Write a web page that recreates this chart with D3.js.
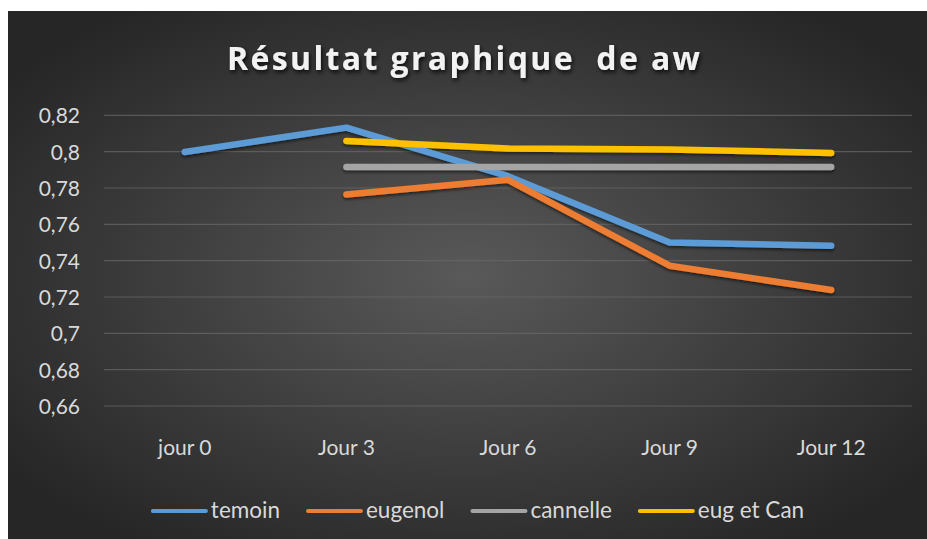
<!DOCTYPE html>
<html>
<head>
<meta charset="utf-8">
<script src="https://cdn.jsdelivr.net/npm/d3@7"></script>
<style>
  html, body { margin: 0; padding: 0; background: #ffffff; }
  svg { display: block; }
</style>
</head>
<body>
<svg id="chart" width="927" height="539"></svg>
<script>
const categories = ["jour 0", "Jour 3", "Jour 6", "Jour 9", "Jour 12"];
const temoin   = [0.7998, 0.8132, 0.7865, 0.7500, 0.7482];
const eugenol  = [null,   0.7764, 0.7845, 0.7372, 0.7238];
const cannelle = [null,   0.7916, 0.7916, 0.7916, 0.7916];
const eugCan   = [null,   0.8059, 0.8017, 0.8012, 0.7993];
const seriesNames = ["temoin", "eugenol", "cannelle", "eug et Can"];
const seriesColors = ["#5b9bd5", "#ed7d31", "#a5a5a5", "#ffc000"];
const yTicks = [0.66, 0.68, 0.70, 0.72, 0.74, 0.76, 0.78, 0.80, 0.82];
const yTickLabels = ["0,66", "0,68", "0,7", "0,72", "0,74", "0,76", "0,78", "0,8", "0,82"];
const title = "Résultat graphique  de aw";

const seriesData = [temoin, eugenol, cannelle, eugCan];

const svg = d3.select("#chart");
const W = 927, H = 539;
const FONT = "Lato, 'Open Sans', sans-serif";

const defs = svg.append("defs");
const grad = defs.append("radialGradient").attr("id", "bg")
  .attr("cx", "50%").attr("cy", "50%").attr("r", "62%");
grad.append("stop").attr("offset", "0%").attr("stop-color", "#595959");
grad.append("stop").attr("offset", "100%").attr("stop-color", "#262626");

const shadow = defs.append("filter").attr("id", "shadow")
  .attr("x", "-10%").attr("y", "-30%").attr("width", "120%").attr("height", "160%");
shadow.append("feDropShadow").attr("dx", 0).attr("dy", 2).attr("stdDeviation", 1.8)
  .attr("flood-color", "#000").attr("flood-opacity", 0.55);

const tshadow = defs.append("filter").attr("id", "tshadow")
  .attr("x", "-10%").attr("y", "-30%").attr("width", "120%").attr("height", "160%");
tshadow.append("feDropShadow").attr("dx", 1.5).attr("dy", 2.5).attr("stdDeviation", 2)
  .attr("flood-color", "#000").attr("flood-opacity", 0.8);

// background panel
svg.append("rect").attr("x", 8).attr("y", 11).attr("width", W - 8).attr("height", H - 11)
  .attr("fill", "url(#bg)");

// scales
const x = d3.scaleBand().domain(categories).range([104, 912]);
const y = d3.scaleLinear().domain([0.66, 0.82]).range([406, 115.3]);

// gridlines
svg.append("g").selectAll("line").data(yTicks).join("line")
  .attr("x1", 104).attr("x2", 912)
  .attr("y1", d => y(d)).attr("y2", d => y(d))
  .attr("stroke", "#6a6a6a").attr("stroke-opacity", 0.7).attr("stroke-width", 1.2);

// y axis labels
const yAxis = d3.axisLeft(y).tickValues(yTicks)
  .tickFormat((d, i) => yTickLabels[i]).tickSize(0).tickPadding(0);
const gy = svg.append("g").attr("transform", "translate(80,0)").call(yAxis);
gy.select(".domain").remove();
gy.selectAll("text").attr("fill", "#d9d9d9").attr("font-family", FONT)
  .attr("font-size", 21).attr("dy", "0.36em");

// x axis labels
const xAxis = d3.axisBottom(x).tickSize(0).tickPadding(0);
const gx = svg.append("g").attr("transform", "translate(0,455)").call(xAxis);
gx.select(".domain").remove();
gx.selectAll("text").attr("fill", "#d9d9d9").attr("font-family", FONT)
  .attr("font-size", 21).attr("dy", 0).attr("y", 0);

// lines
const line = d3.line()
  .defined(d => d.v != null)
  .x(d => x(d.c) + x.bandwidth() / 2)
  .y(d => y(d.v));

const gl = svg.append("g").attr("filter", "url(#shadow)");
seriesData.forEach((arr, si) => {
  const pts = arr.map((v, i) => ({ c: categories[i], v }));
  gl.append("path").attr("d", line(pts))
    .attr("fill", "none").attr("stroke", seriesColors[si])
    .attr("stroke-width", 6.5).attr("stroke-linecap", "round").attr("stroke-linejoin", "round");
});

// title
svg.append("text").attr("x", 463.5).attr("y", 70)
  .attr("text-anchor", "middle").attr("font-family", "'Open Sans', Lato, sans-serif").attr("font-weight", 700)
  .attr("font-size", 32).attr("fill", "#f2f2f2")
  .attr("textLength", 473).attr("lengthAdjust", "spacing")
  .attr("filter", "url(#tshadow)")
  .style("white-space", "pre")
  .text(title);

// legend
const lg = svg.append("g");
const items = [];
seriesNames.forEach((name, i) => {
  const g = lg.append("g");
  g.append("line").attr("x1", 0).attr("x2", 53).attr("y1", 0).attr("y2", 0)
    .attr("stroke", seriesColors[i]).attr("stroke-width", 4).attr("stroke-linecap", "round");
  const t = g.append("text").attr("x", 58).attr("y", 0).attr("dy", "0.33em")
    .attr("font-family", FONT).attr("font-size", 22.5).attr("fill", "#d9d9d9").text(name);
  items.push({ g, w: 58 + t.node().getComputedTextLength() });
});
const gap = 28;
const total = d3.sum(items, d => d.w) + gap * (items.length - 1);
let cx = 478.5 - total / 2;
items.forEach(it => {
  it.g.attr("transform", `translate(${cx},511)`);
  cx += it.w + gap;
});
</script>
</body>
</html>
